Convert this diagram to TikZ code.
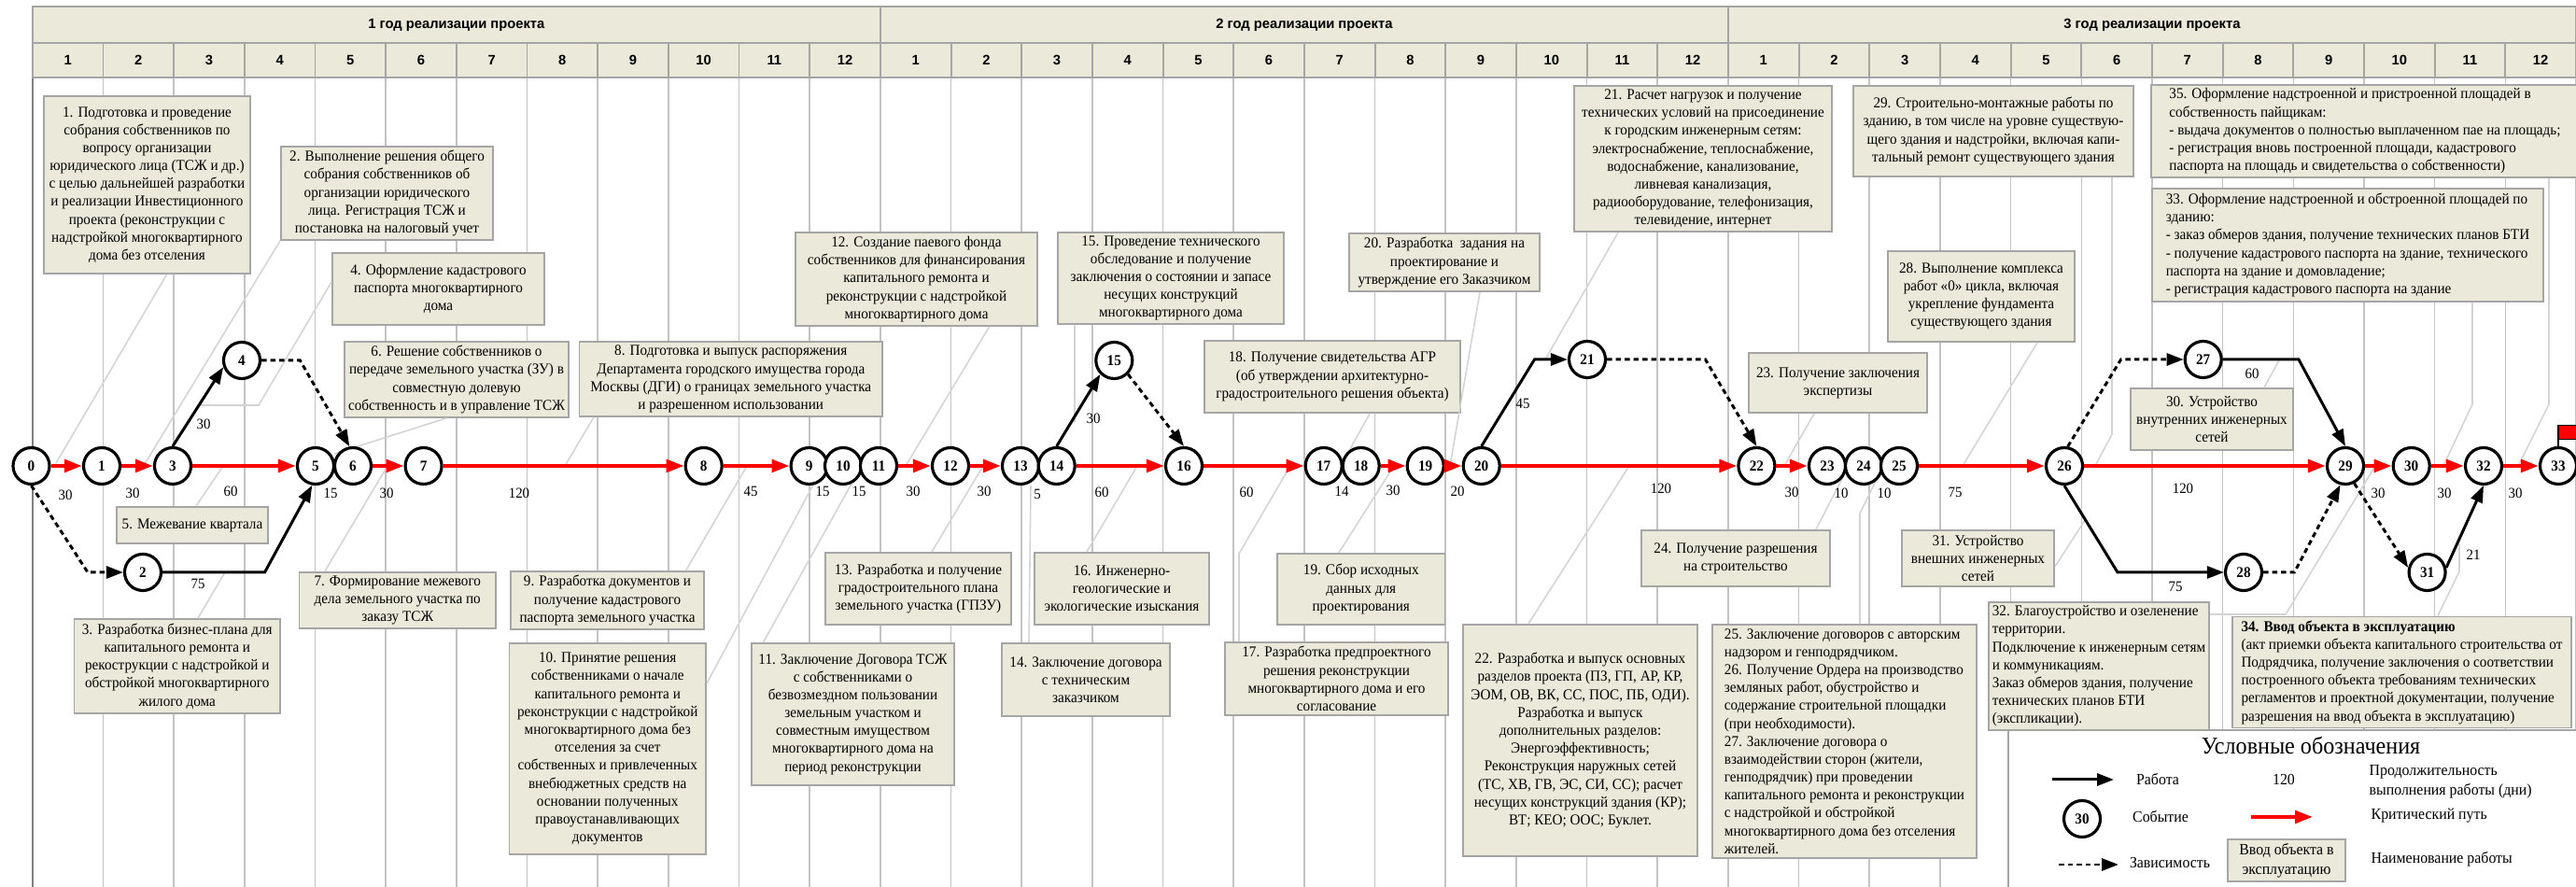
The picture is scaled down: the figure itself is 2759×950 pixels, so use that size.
\documentclass[tikz,border=0pt]{standalone}
\usepackage{fontspec}
\setmainfont{Liberation Serif}[FakeStretch=0.94]
\setsansfont{Liberation Sans}
\usetikzlibrary{arrows.meta}

\definecolor{boxfill}{RGB}{235,233,218}
\definecolor{boxline}{RGB}{165,165,165}
\definecolor{gridc}{RGB}{195,195,195}
\definecolor{leadc}{RGB}{212,212,212}

\newcommand\bxfont{\fontsize{4.6}{5.46}\selectfont}
\newcommand\evfont{\fontsize{4.6}{5}\selectfont\bfseries}
\newcommand\durfont{\fontsize{4.5}{5}\selectfont}
\newcommand\hdfont{\fontsize{4.2}{5}\selectfont\sffamily\bfseries}
\newcommand\lgfont{\fontsize{4.8}{5.9}\selectfont}

\tikzset{
  box/.style={draw=boxline, fill=boxfill, line width=0.55pt, inner sep=0.4mm, align=center, font=\bxfont},
  lbox/.style={box, align=left},
  ev/.style={circle, draw, fill=white, line width=0.9pt, minimum size=3.9mm, inner sep=0pt, font=\evfont},
  dur/.style={inner sep=0pt, font=\durfont},
  year/.style={draw=boxline, fill=boxfill, line width=0.55pt, minimum width=90.8mm, minimum height=3.9mm, font=\hdfont},
  month/.style={draw=boxline, fill=boxfill, line width=0.55pt, minimum width=7.567mm, minimum height=3.7mm, font=\hdfont},
  grid/.style={draw=gridc, line width=0.45pt},
  lead/.style={draw=leadc, line width=0.45pt},
  crit/.style={draw=red, line width=1.15pt, -{Triangle[length=1.9mm,width=1.35mm]}},
  work/.style={line width=0.85pt, -{Triangle[length=1.8mm,width=1.3mm]}},
  dep/.style={work, dash pattern=on 0.55mm off 0.4mm},
  lgtext/.style={inner sep=0pt, font=\lgfont}
}

\begin{document}
\begin{tikzpicture}[x=0.1mm, y=-0.1mm]
  \useasboundingbox (0,0) rectangle (2759,950);
  \foreach \k in {0,...,36}
    \draw[grid] ({34.8+\k*75.672},83) -- ({34.8+\k*75.672},950);
  \draw[draw=gray, line width=0.5pt] (34.8,83) -- (34.8,950);
  \foreach \yr in {1,2,3}
    \node[year] (y\yr) at ({34.8+(\yr-0.5)*908.07},26.5) {\yr{} год реализации проекта};
  \foreach \m [evaluate=\m as \mm using {int(mod(\m-1,12)+1)}] in {1,...,36}
    \node[month] (m\m) at ({34.8+(\m-0.5)*75.672},64.5) {\mm};

  \node[box, minimum width=22.1mm, minimum height=19mm] (b1) at (157.5,198) {1. Подготовка и проведение\\собрания собственников по\\вопросу организации\\юридического лица (ТСЖ и др.)\\с целью дальнейшей разработки\\и реализации Инвестиционного\\проекта (реконструкции с\\надстройкой многоквартирного\\дома без отселения};
  \node[box, minimum width=22.7mm, minimum height=9.8mm] (b2) at (414.5,207) {2. Выполнение решения общего\\собрания собственников об\\организации юридического\\лица. Регистрация ТСЖ и\\постановка на налоговый учет};
  \node[box, minimum width=22.7mm, minimum height=7.7mm] (b4) at (469.5,309.5) {4. Оформление кадастрового\\паспорта многоквартирного\\дома};
  \node[box, minimum width=22.6mm, minimum height=7.9mm] (b6) at (489,406.5) {6. Решение собственников о\\передаче земельного участка (ЗУ) в\\совместную долевую\\собственность и в управление ТСЖ};
  \node[box, minimum width=32.45mm, minimum height=7.8mm] (b8) at (782.75,406) {8. Подготовка и выпуск распоряжения\\Департамента городского имущества города\\Москвы (ДГИ) о границах земельного участка\\и разрешенном использовании};
  \node[box, minimum width=25.9mm, minimum height=10mm] (b12) at (981.5,299) {12. Создание паевого фонда\\собственников для финансирования\\капитального ремонта и\\реконструкции с надстройкой\\многоквартирного дома};
  \node[box, minimum width=24.2mm, minimum height=9.8mm] (b15) at (1254,298) {15. Проведение технического\\обследование и получение\\заключения о состоянии и запасе\\несущих конструкций\\многоквартирного дома};
  \node[box, minimum width=27.4mm, minimum height=7.7mm] (b18) at (1427,403.5) {18. Получение свидетельства АГР\\(об утверждении архитектурно-\\градостроительного решения объекта)};
  \node[box, minimum width=20.4mm, minimum height=6.2mm] (b20) at (1547,281) {20. Разработка\ \ задания на\\проектирование и\\утверждение его Заказчиком};
  \node[box, minimum width=27.6mm, minimum height=15.6mm] (b21) at (1824,170) {21. Расчет нагрузок и получение\\технических условий на присоединение\\к городским инженерным сетям:\\электроснабжение, теплоснабжение,\\водоснабжение, канализование,\\ливневая канализация,\\радиооборудование, телефонизация,\\телевидение, интернет};
  \node[box, minimum width=30mm, minimum height=9.7mm] (b29) at (2135,140.5) {29. Строительно-монтажные работы по\\зданию, в том числе на уровне существую-\\щего здания и надстройки, включая капи-\\тальный ремонт существующего здания};
  \node[box, minimum width=20mm, minimum height=9.7mm] (b28) at (2122,317.5) {28. Выполнение комплекса\\работ «0» цикла, включая\\укрепление фундамента\\существующего здания};
  \node[box, minimum width=19.1mm, minimum height=6.4mm] (b23) at (1968.5,410) {23. Получение заключения\\экспертизы};
  \node[lbox, minimum width=45.8mm, minimum height=9.5mm] (b35) at (2533,140.5) {35. Оформление надстроенной и пристроенной площадей в\\собственность пайщикам:\\- выдача документов о полностью выплаченном пае на площадь;\\- регистрация вновь построенной площади, кадастрового\\паспорта на площадь и свидетельства о собственности)};
  \node[lbox, minimum width=41.9mm, minimum height=12.1mm] (b33) at (2514.5,262.5) {33. Оформление надстроенной и обстроенной площадей по\\зданию:\\- заказ обмеров здания, получение технических планов БТИ\\- получение кадастрового паспорта на здание, технического\\паспорта на здание и домовладение;\\- регистрация кадастрового паспорта на здание};
  \node[box, minimum width=17.4mm, minimum height=6.6mm] (b30) at (2369,449) {30. Устройство\\внутренних инженерных\\сетей};
  \node[box, minimum width=16.2mm, minimum height=3.9mm] (b5) at (206,562.5) {5. Межевание квартала};
  \node[box, minimum width=22.05mm, minimum height=10.1mm] (b3) at (189.75,713.5) {3. Разработка бизнес-плана для\\капитального ремонта и\\рекострукции с надстройкой и\\обстройкой многоквартирного\\жилого дома};
  \node[box, minimum width=21.05mm, minimum height=6mm] (b7) at (425.75,643) {7. Формирование межевого\\дела земельного участка по\\заказу ТСЖ};
  \node[box, minimum width=20.7mm, minimum height=6mm] (b9) at (650.5,643) {9. Разработка документов и\\получение кадастрового\\паспорта земельного участка};
  \node[box, minimum width=21.05mm, minimum height=22.6mm] (b10) at (650.75,802) {10. Принятие решения\\собственниками о начале\\капитального ремонта и\\реконструкции с надстройкой\\многоквартирного дома без\\отселения за счет\\собственных и привлеченных\\внебюджетных средств на\\основании полученных\\правоустанавливающих\\документов};
  \node[box, minimum width=19.9mm, minimum height=7.7mm] (b13) at (983.5,630.5) {13. Разработка и получение\\градостроительного плана\\земельного участка (ГПЗУ)};
  \node[box, minimum width=18.7mm, minimum height=7.7mm] (b16) at (1201.5,630.5) {16. Инженерно-\\геологические и\\экологические изыскания};
  \node[box, minimum width=21.7mm, minimum height=15.2mm] (b11) at (913.5,765) {11. Заключение Договора ТСЖ\\с собственниками о\\безвозмездном пользовании\\земельным участком и\\совместным имуществом\\многоквартирного дома на\\период реконструкции};
  \node[box, minimum width=18mm, minimum height=7.8mm] (b14) at (1163,728) {14. Заключение договора\\с техническим\\заказчиком};
  \node[box, minimum width=23.9mm, minimum height=7.8mm] (b17) at (1431.5,727) {17. Разработка предпроектного\\решения реконструкции\\многоквартирного дома и его\\согласование};
  \node[box, minimum width=17.95mm, minimum height=7.6mm] (b19) at (1457.75,631) {19. Сбор исходных\\данных для\\проектирования};
  \node[box, minimum width=25.1mm, minimum height=24.8mm] (b22) at (1692.5,793) {22. Разработка и выпуск основных\\разделов проекта (ПЗ, ГП, АР, КР,\\ЭОМ, ОВ, ВК, СС, ПОС, ПБ, ОДИ).\\Разработка и выпуск\\дополнительных разделов:\\Энергоэффективность;\\Реконструкция наружных сетей\\(ТС, ХВ, ГВ, ЭС, СИ, СС); расчет\\несущих конструкций здания (КР);\\ВТ; КЕО; ООС; Буклет.};
  \node[box, minimum width=20.2mm, minimum height=6mm] (b24) at (1859,598) {24. Получение разрешения\\на строительство};
  \node[lbox, minimum width=28.3mm, minimum height=24.8mm] (b25) at (1975.5,794) {25. Заключение договоров с авторским\\надзором и генподрядчиком.\\26. Получение Ордера на производство\\земляных работ, обустройство и\\содержание строительной площадки\\(при необходимости).\\27. Заключение договора о\\взаимодействии сторон (жители,\\генподрядчик) при проведении\\капитального ремонта и реконструкции\\с надстройкой и обстройкой\\многоквартирного дома без отселения\\жителей.};
  \node[box, minimum width=16.3mm, minimum height=6mm] (b31) at (2118.5,598) {31. Устройство\\внешних инженерных\\сетей};
  \node[lbox, minimum width=23mm, minimum height=12.3mm] (b32) at (2248,713.5) {32. Благоустройство и озеленение\\территории.\\Подключение к инженерным сетям\\и коммуникациям.\\Заказ обмеров здания, получение\\технических планов БТИ\\(экспликации).};
  \node[lbox, minimum width=36.3mm, minimum height=11mm] (b34) at (2572.5,720) {\textbf{34. Ввод объекта в эксплуатацию}\\(акт приемки объекта капитального строительства от\\Подрядчика, получение заключения о соответствии\\построенного объекта требованиям технических\\регламентов и проектной документации, получение\\разрешения на ввод объекта в эксплуатацию)};

  \draw[lead] ([xshift=2.11mm]b1.south) -- (60,496);
  \draw[lead] (b2.south west) -- (155,497);
  \draw[lead] ([yshift=0.75mm]b4.west) -- (277,434) -- (213,434);
  \draw[lead] ([xshift=0.4mm]b5.north) -- (239,499);
  \draw[lead] ([xshift=2.23mm]b3.north) -- (241,613);
  \draw[lead] ([xshift=-1.06mm]b6.south) -- (358,486);
  \draw[lead] ([xshift=-7.78mm]b7.north) -- (415,499);
  \draw[lead] ([xshift=-14.68mm]b8.south) -- (605,499);
  \draw[lead] ([xshift=8.4mm]b9.north) -- (800,499);
  \draw[lead] ([yshift=7mm]b10.east) -- (876,510);
  \draw[lead] ([xshift=-9.6mm]b11.north) -- (912,518);
  \draw[lead] ([xshift=7.8mm]b12.south) -- (970,499);
  \draw[lead] ([xshift=1.45mm]b13.north) -- (1053,499);
  \draw[lead] ([xshift=-6.1mm]b14.north) -- (1104,520);
  \draw[lead] ([xshift=-10.3mm]b15.south) -- (1151,452);
  \draw[lead] ([xshift=-3.75mm]b16.north) -- (1218,499);
  \draw[lead] ([xshift=-10.45mm]b17.north) -- (1327,593) -- (1382,499);
  \draw[lead] ([xshift=4mm]b18.south) -- (1440,492);
  \draw[lead] ([xshift=-2.38mm]b19.north) -- (1493,499);
  \draw[lead] ([xshift=3.8mm]b20.south) -- (1553,499);
  \draw[lead] ([xshift=-9.1mm]b21.south) -- (1655,385);
  \draw[lead] ([xshift=-5.55mm]b22.north) -- (1745,499);
  \draw[lead] ([xshift=-2.55mm]b23.south) -- (1911,499);
  \draw[lead] ([xshift=8.6mm]b24.north) -- (1977,505);
  \draw[lead] ([xshift=1.65mm]b25.north) -- (1992,550) -- (2014,505);
  \draw[lead] ([xshift=6mm]b28.south) -- (2102,499);
  \draw[lead] ([xshift=12.7mm]b29.south) -- (2262,465) -- (2244,499);
  \draw[lead] ([xshift=5.6mm]b30.north) -- (2441,386);
  \draw[lead] ([yshift=-0.9mm]b31.east) -- (2233,557);
  \draw[lead] ([yshift=5.55mm]b32.east) -- (2448,658) -- (2544,499);
  \draw[lead] ([xshift=13.35mm]b33.south) -- (2648,433) -- (2617,499);
  \draw[lead] ([xshift=3.85mm]b34.north) -- (2634,612) -- (2634,583);
  \draw[lead] ([xshift=19.7mm]b35.south) -- (2730,433) -- (2697,499);

  \node[ev] (n0) at (33.5,499) {0};
  \node[ev] (n1) at (109,499) {1};
  \node[ev] (n2) at (153,613) {2};
  \node[ev] (n3) at (185,499) {3};
  \node[ev] (n4) at (259,386) {4};
  \node[ev] (n5) at (338,499) {5};
  \node[ev] (n6) at (378,499) {6};
  \node[ev] (n7) at (453.6,499) {7};
  \node[ev] (n8) at (753.7,499) {8};
  \node[ev] (n9) at (866.6,499) {9};
  \node[ev] (n10) at (903,499) {10};
  \node[ev] (n11) at (941,499) {11};
  \node[ev] (n12) at (1018,499) {12};
  \node[ev] (n13) at (1093,499) {13};
  \node[ev] (n14) at (1131.7,499) {14};
  \node[ev] (n15) at (1193.3,386) {15};
  \node[ev] (n16) at (1268,499) {16};
  \node[ev] (n17) at (1417.7,499) {17};
  \node[ev] (n18) at (1457.7,499) {18};
  \node[ev] (n19) at (1526.7,499) {19};
  \node[ev] (n20) at (1586.7,499) {20};
  \node[ev] (n21) at (1700,385) {21};
  \node[ev] (n22) at (1881.4,499) {22};
  \node[ev] (n23) at (1957,499) {23};
  \node[ev] (n24) at (1996,499) {24};
  \node[ev] (n25) at (2034,499) {25};
  \node[ev] (n26) at (2211,499) {26};
  \node[ev] (n27) at (2359.7,385) {27};
  \node[ev] (n28) at (2403,613) {28};
  \node[ev] (n29) at (2512,499) {29};
  \node[ev] (n30) at (2582.7,499) {30};
  \node[ev] (n31) at (2599.6,613) {31};
  \node[ev] (n32) at (2660,499) {32};
  \node[ev] (n33) at (2740,499) {33};

  \draw[crit] (n0) -- (n1);
  \draw[crit] (n1) -- (n3);
  \draw[crit] (n3) -- (n5);
  \draw[crit] (n6) -- (n7);
  \draw[crit] (n7) -- (n8);
  \draw[crit] (n8) -- (n9);
  \draw[crit] (n11) -- (n12);
  \draw[crit] (n12) -- (n13);
  \draw[crit] (n14) -- (n16);
  \draw[crit] (n16) -- (n17);
  \draw[crit] (n18) -- (n19);
  \draw[crit] (n19) -- (n20);
  \draw[crit] (n20) -- (n22);
  \draw[crit] (n22) -- (n23);
  \draw[crit] (n25) -- (n26);
  \draw[crit] (n26) -- (n29);
  \draw[crit] (n29) -- (n30);
  \draw[crit] (n30) -- (n32);
  \draw[crit] (n32) -- (n33);
  \draw[dep] (n0.south) -- (94,613) -- (n2);
  \draw[work] (n2) -- (283.5,613) -- (n5.260);
  \draw[work] (n3.north) -- (n4.200);
  \draw[dep] (n4) -- (321.4,386) -- (n6.100);
  \draw[work] (n14.north) -- (n15.south west);
  \draw[dep] (n15.south east) -- (n16.north);
  \draw[work] (n20.north) -- (1643.5,385) -- (n21);
  \draw[dep] (n21) -- (1826.5,385) -- (n22.north);
  \draw[dep] (n26.80) -- (2271.6,385) -- (n27);
  \draw[work] (n27) -- (2462,385) -- (n29.north);
  \draw[work] (n26.south) -- (2268,613) -- (n28);
  \draw[dep] (n28) -- (2457.4,613) -- (n29.255);
  \draw[dep] (n29.-63) -- (n31.166);
  \draw[work] (n31.14) -- (n32.south);
  \draw[line width=0.6pt] (n33.north) -- ++(0,-22.5) coordinate (pole);
  \filldraw[fill=red, draw=black, line width=0.4pt] (pole) rectangle ++(25,15);

  \node[dur] (d1) at (70,530) {30};
  \node[dur] (d2) at (142,528) {30};
  \node[dur] (d3) at (247,526) {60};
  \node[dur] (d4) at (354,528) {15};
  \node[dur] (d5) at (414,528) {30};
  \node[dur] (d6) at (556,528) {120};
  \node[dur] (d7) at (212,625) {75};
  \node[dur] (d8) at (218,454) {30};
  \node[dur] (d9) at (804,526) {45};
  \node[dur] (d10) at (881,526) {15};
  \node[dur] (d11) at (920,526) {15};
  \node[dur] (d12) at (978,526) {30};
  \node[dur] (d13) at (1054,526) {30};
  \node[dur] (d14) at (1111,529) {5};
  \node[dur] (d15) at (1180,527) {60};
  \node[dur] (d16) at (1171,448) {30};
  \node[dur] (d17) at (1335,527) {60};
  \node[dur] (d18) at (1437,526) {14};
  \node[dur] (d19) at (1492,525) {30};
  \node[dur] (d20) at (1561,526) {20};
  \node[dur] (d21) at (1631,432) {45};
  \node[dur] (d22) at (1779,523) {120};
  \node[dur] (d23) at (1919,527) {30};
  \node[dur] (d24) at (1972,528) {10};
  \node[dur] (d25) at (2018,528) {10};
  \node[dur] (d26) at (2094,527) {75};
  \node[dur] (d27) at (2338,523) {120};
  \node[dur] (d28) at (2330,628) {75};
  \node[dur] (d29) at (2412,400) {60};
  \node[dur] (d30) at (2547,528) {30};
  \node[dur] (d31) at (2618,528) {30};
  \node[dur] (d32) at (2694,528) {30};
  \node[dur] (d33) at (2649,594) {21};

  \node[draw=boxline, fill=white, line width=0.55pt, minimum width=61.1mm, minimum height=17.3mm] (leg) at (2456.5,868.5) {};
  \node[inner sep=0pt, font=\fontsize{7.3}{8}\selectfont] (lgt) at (2475,798) {Условные обозначения};
  \coordinate (lw1) at (2198,835);
  \coordinate (lw2) at (2264,835);
  \draw[work] (lw1) -- (lw2);
  \node[lgtext] (lgw) at (2311,835) {Работа};
  \node[lgtext] (lgd) at (2446,835) {120};
  \node[lgtext, anchor=west, align=left] (lgdt) at (2537,837) {Продолжительность\\выполнения работы (дни)};
  \node[ev] (lge) at (2230,877) {30};
  \node[lgtext] (lget) at (2314,875) {Событие};
  \coordinate (lc1) at (2411,875);
  \coordinate (lc2) at (2477,875);
  \draw[crit] (lc1) -- (lc2);
  \node[lgtext, anchor=west] (lgct) at (2539,874) {Критический путь};
  \coordinate (ld1) at (2205,926);
  \coordinate (ld2) at (2269,926);
  \draw[dep] (ld1) -- (ld2);
  \node[lgtext] (lgdp) at (2324,924) {Зависимость};
  \node[box, minimum width=12.6mm, minimum height=4.1mm, font=\lgfont] (lgb) at (2449,921.5) {Ввод объекта в\\эксплуатацию};
  \node[lgtext, anchor=west] (lgbt) at (2539,920) {Наименование работы};
\end{tikzpicture}
\end{document}
